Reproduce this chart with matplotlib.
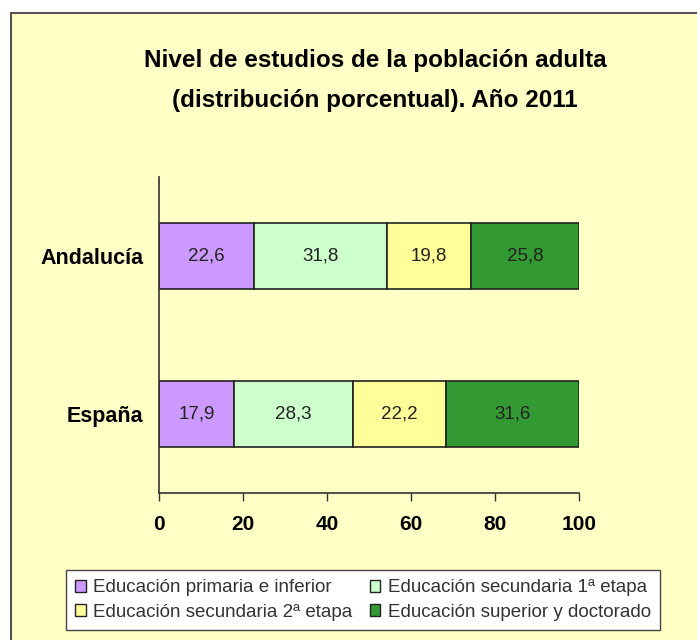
import matplotlib
matplotlib.use("Agg")
import matplotlib.pyplot as plt
from matplotlib.patches import Rectangle, Patch

plt.rcParams["font.family"] = ["Liberation Sans", "DejaVu Sans"]

regions = ["España", "Andalucía"]
levels = [
    "Educación primaria e inferior",
    "Educación secundaria 1ª etapa",
    "Educación secundaria 2ª etapa",
    "Educación superior y doctorado",
]
values = {
    "Educación primaria e inferior": [17.9, 22.6],
    "Educación secundaria 1ª etapa": [28.3, 31.8],
    "Educación secundaria 2ª etapa": [22.2, 19.8],
    "Educación superior y doctorado": [31.6, 25.8],
}
colors = ["#CC99FF", "#CCFFCC", "#FFFF99", "#339933"]
xticks = [0, 20, 40, 60, 80, 100]

W, H = 697, 640
fig = plt.figure(figsize=(W / 100, H / 100), dpi=100)
fig.patch.set_facecolor("white")

# yellow chart panel with border
panel = Rectangle((11 / W, -0.01), 1.0, 1 - 13 / H + 0.01, transform=fig.transFigure,
                  facecolor="#FFFFC6", edgecolor="#555555", linewidth=1.5, zorder=-5)
fig.patches.append(panel)

fig.text(375 / W, 1 - 60 / H, "Nivel de estudios de la población adulta",
         ha="center", va="center", fontsize=17.5, fontweight="bold")
fig.text(375 / W, 1 - 100 / H, "(distribución porcentual). Año 2011",
         ha="center", va="center", fontsize=17.5, fontweight="bold")

ax = fig.add_axes([159 / W, 147 / H, 420 / W, 316 / H])
ax.set_facecolor("none")
ax.set_zorder(2)

ypos = list(range(len(regions)))
left = [0.0] * len(regions)
handles = []
for lev, col in zip(levels, colors):
    vals = values[lev]
    bars = ax.barh(ypos, vals, left=left, height=0.42, color=col,
                   edgecolor="#222222", linewidth=1.2)
    for b, v in zip(bars, vals):
        ax.text(b.get_x() + b.get_width() / 2, b.get_y() + b.get_height() / 2,
                f"{v:.1f}".replace(".", ","), ha="center", va="center",
                fontsize=13.5, color="#222222")
    left = [l + v for l, v in zip(left, vals)]
    handles.append(Patch(facecolor=col, edgecolor="#222222", linewidth=1))

ax.set_xlim(0, 100)
ax.set_ylim(-0.5, 1.5)
ax.set_xticks(xticks)
ax.set_xticklabels([str(t) for t in xticks], fontsize=15, fontweight="bold")
ax.set_yticks(ypos)
ax.set_yticklabels(regions, fontsize=15.5, fontweight="bold")
ax.tick_params(axis="y", length=0, pad=11)
ax.tick_params(axis="x", length=6, width=1, color="#333333", pad=10, direction="out")
for s in ["top", "right"]:
    ax.spines[s].set_visible(False)
for s in ["left", "bottom"]:
    ax.spines[s].set_color("#333333")
    ax.spines[s].set_linewidth(1.2)

# legend: row order primaria, sec 1ª / sec 2ª, superior
order = [0, 2, 1, 3]
leg = fig.legend([handles[i] for i in order], [levels[i] for i in order],
                 ncol=2, loc="lower left",
                 bbox_to_anchor=(66 / W, 10 / H, 594 / W, 62 / H), mode="expand",
                 fontsize=13.5, handlelength=0.55, handleheight=0.55,
                 handletextpad=0.4, columnspacing=0.3, labelspacing=0.38,
                 borderpad=0.5, borderaxespad=0, fancybox=False, frameon=True,
                 edgecolor="#444444", labelcolor="#333333", framealpha=1)
leg.get_frame().set_linewidth(1.0)

fig.savefig("out.png", dpi=100)
